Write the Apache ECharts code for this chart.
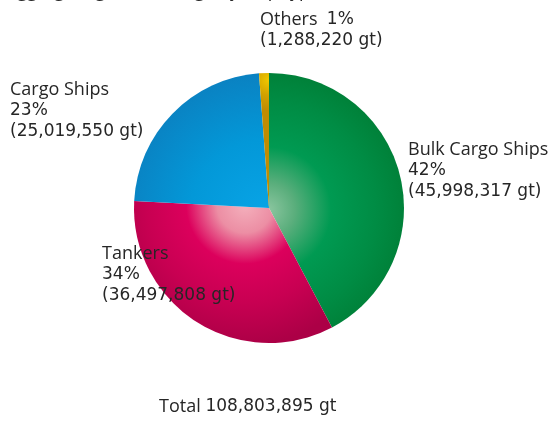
<!DOCTYPE html>
<html>
<head>
<meta charset="utf-8">
<script src="https://cdn.jsdelivr.net/npm/echarts@6/dist/echarts.min.js"></script>
<style>
  html, body { margin: 0; padding: 0; background: #fff; }
  #chart { width: 550px; height: 421px; }
</style>
</head>
<body>
<div id="chart"></div>
<script>
// Fleet composition by ship type (gross tonnage)
const shipTypes = ['Bulk Cargo Ships', 'Tankers', 'Cargo Ships', 'Others'];
const grossTons = [45998317, 36497808, 25019550, 1288220];
const totalLabel = 'Total 108,803,895 gt';
const subtitle = '(aggregate gross tonnage by ship type)';

const NAME_FONT = '"Open Sans", sans-serif';
const NUM_FONT = '"DejaVu Sans", sans-serif';
const TEXT_COLOR = '#262626';
const CX = 269, CY = 208, R = 135;

// Each slice: base tone with a soft radial highlight near the pie centre
function shade(hx, hy, hr, stops) {
  return {
    type: 'radial', x: hx, y: hy, r: hr, global: true,
    colorStops: stops.map(s => ({ offset: s[0], color: s[1] }))
  };
}
const fills = [
  shade(268, 210, 150, [[0, '#8cc6a0'], [0.18, '#5aae7c'], [0.42, '#009a52'], [0.72, '#008c44'], [1, '#007c34']]),
  shade(245, 205, 140, [[0, '#f4b0bc'], [0.2, '#ec8ea4'], [0.42, '#dc005c'], [0.7, '#c80052'], [1, '#ac0046']]),
  shade(265, 215, 150, [[0, '#08a4e6'], [0.5, '#0398d8'], [1, '#0b7fbf']]),
  shade(269, 80, 30, [[0, '#f0c800'], [0.5, '#d2a200'], [1, '#c08c00']])
];

// Label anchor points (top-left of each text block)
const labelSpots = [
  { x: 408, y: 139 },
  { x: 102, y: 243 },
  { x: 10, y: 79 },
  { x: 260, y: 9 }
];

const total = grossTons.reduce((a, b) => a + b, 0);
const fmt = n => n.toLocaleString('en-US');
const totalParts = totalLabel.split(' ');

const chart = echarts.init(document.getElementById('chart'), null, { renderer: 'canvas' });
chart.setOption({
  animation: false,
  backgroundColor: '#ffffff',
  graphic: [
    {
      type: 'text', left: 159, top: 398,
      style: {
        text: '{n|' + totalParts[0] + ' }{v|' + totalParts.slice(1).join(' ') + '}',
        rich: {
          n: { fontFamily: NAME_FONT, fontSize: 18, fill: TEXT_COLOR },
          v: { fontFamily: NUM_FONT, fontSize: 17, fill: TEXT_COLOR }
        }
      }
    },
    {
      type: 'text', left: 2, top: -17,
      style: { text: subtitle, font: '18px ' + NAME_FONT, fill: TEXT_COLOR }
    }
  ],
  series: [{
    type: 'pie',
    center: [CX, CY],
    radius: [0, R],
    startAngle: 90,
    clockwise: true,
    avoidLabelOverlap: false,
    itemStyle: { borderWidth: 0 },
    emphasis: { disabled: true },
    label: {
      show: true,
      position: 'outside',
      color: TEXT_COLOR,
      lineHeight: 21,
      align: 'left',
      formatter: p => {
        const pct = Math.round(p.value / total * 100) + '%';
        const amt = '{v|(' + fmt(p.value) + ' gt)}';
        if (p.name === 'Others') return '{n|' + p.name + '  }{v|' + pct + '}\n' + amt;
        return '{n|' + p.name + '}\n{v|' + pct + '}\n' + amt;
      },
      rich: {
        n: { fontFamily: NAME_FONT, fontSize: 18, lineHeight: 21, color: TEXT_COLOR },
        v: { fontFamily: NUM_FONT, fontSize: 17, lineHeight: 21, color: TEXT_COLOR }
      }
    },
    labelLine: { show: false },
    labelLayout: p => {
      const s = labelSpots[p.dataIndex];
      return { x: s.x, y: s.y, align: 'left', verticalAlign: 'top', hideOverlap: false };
    },
    data: shipTypes.map((name, i) => ({
      name: name,
      value: grossTons[i],
      itemStyle: { color: fills[i] }
    }))
  }]
});
</script>
</body>
</html>
